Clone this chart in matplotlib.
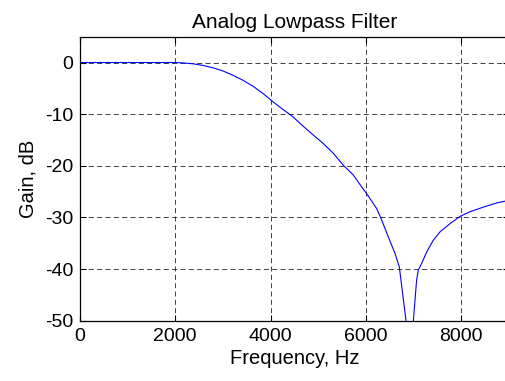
import matplotlib
matplotlib.use("Agg")
import matplotlib.pyplot as plt

plt.rcParams['font.family'] = ['Liberation Sans', 'DejaVu Sans']

freq_hz = [0, 500, 1000, 1500, 2000, 2200, 2380, 2590, 2800, 3010, 3220, 3430,
           3640, 3850, 4060, 4270, 4480, 4620, 4830, 5110, 5320, 5530, 5740,
           5915, 6020, 6230, 6335, 6475, 6615, 6705, 6940,
           7068, 7103, 7174, 7279, 7419, 7559, 7769, 7979, 8189, 8469, 8749, 9000]
gain_db = [0, 0, 0, 0, 0, -0.1, -0.26, -0.58, -1.03, -1.67, -2.5, -3.48,
           -4.64, -6.05, -7.67, -9.15, -10.57, -11.8, -13.5, -15.7, -17.6, -19.9, -21.8,
           -24.1, -25.4, -28.3, -30.5, -33.8, -37.0, -39.6, -57.0,
           -42.1, -40.2, -38.9, -36.7, -34.4, -32.8, -31.2, -29.8, -28.9, -28.0, -27.2, -26.7]
x_ticks = [0, 2000, 4000, 6000, 8000]
y_ticks = [0, -10, -20, -30, -40, -50]

W, H = 506, 381
fig = plt.figure(figsize=(W / 100, H / 100), dpi=100)
left_px, right_px = 80, 80 + 9000 * 0.047625
top_px, bottom_px = 36.7, 320.7
ax = fig.add_axes([left_px / W, (H - bottom_px) / H,
                   (right_px - left_px) / W, (bottom_px - top_px) / H])

ax.plot(freq_hz, gain_db, color='#0000ff', lw=0.8)
ax.set_xlim(0, 9000)
ax.set_ylim(-50, 5)
ax.set_xticks(x_ticks)
ax.set_yticks(y_ticks)
ax.set_xticklabels([str(t) for t in x_ticks])
ax.set_yticklabels([str(t) for t in y_ticks])
ax.grid(True, color='#222222', linestyle=(0, (6, 4)), lw=0.6)
ax.tick_params(direction='in', top=True, right=True, labelsize=14, length=4,
               width=0.8, pad=5)
for s in ax.spines.values():
    s.set_linewidth(0.9)
ax.set_title('Analog Lowpass Filter', fontsize=15, pad=6.5)
ax.set_xlabel('Frequency, Hz', fontsize=14.5, labelpad=3)
ax.set_ylabel('Gain, dB', fontsize=14.5, labelpad=5)
fig.savefig('out.png', dpi=100)
